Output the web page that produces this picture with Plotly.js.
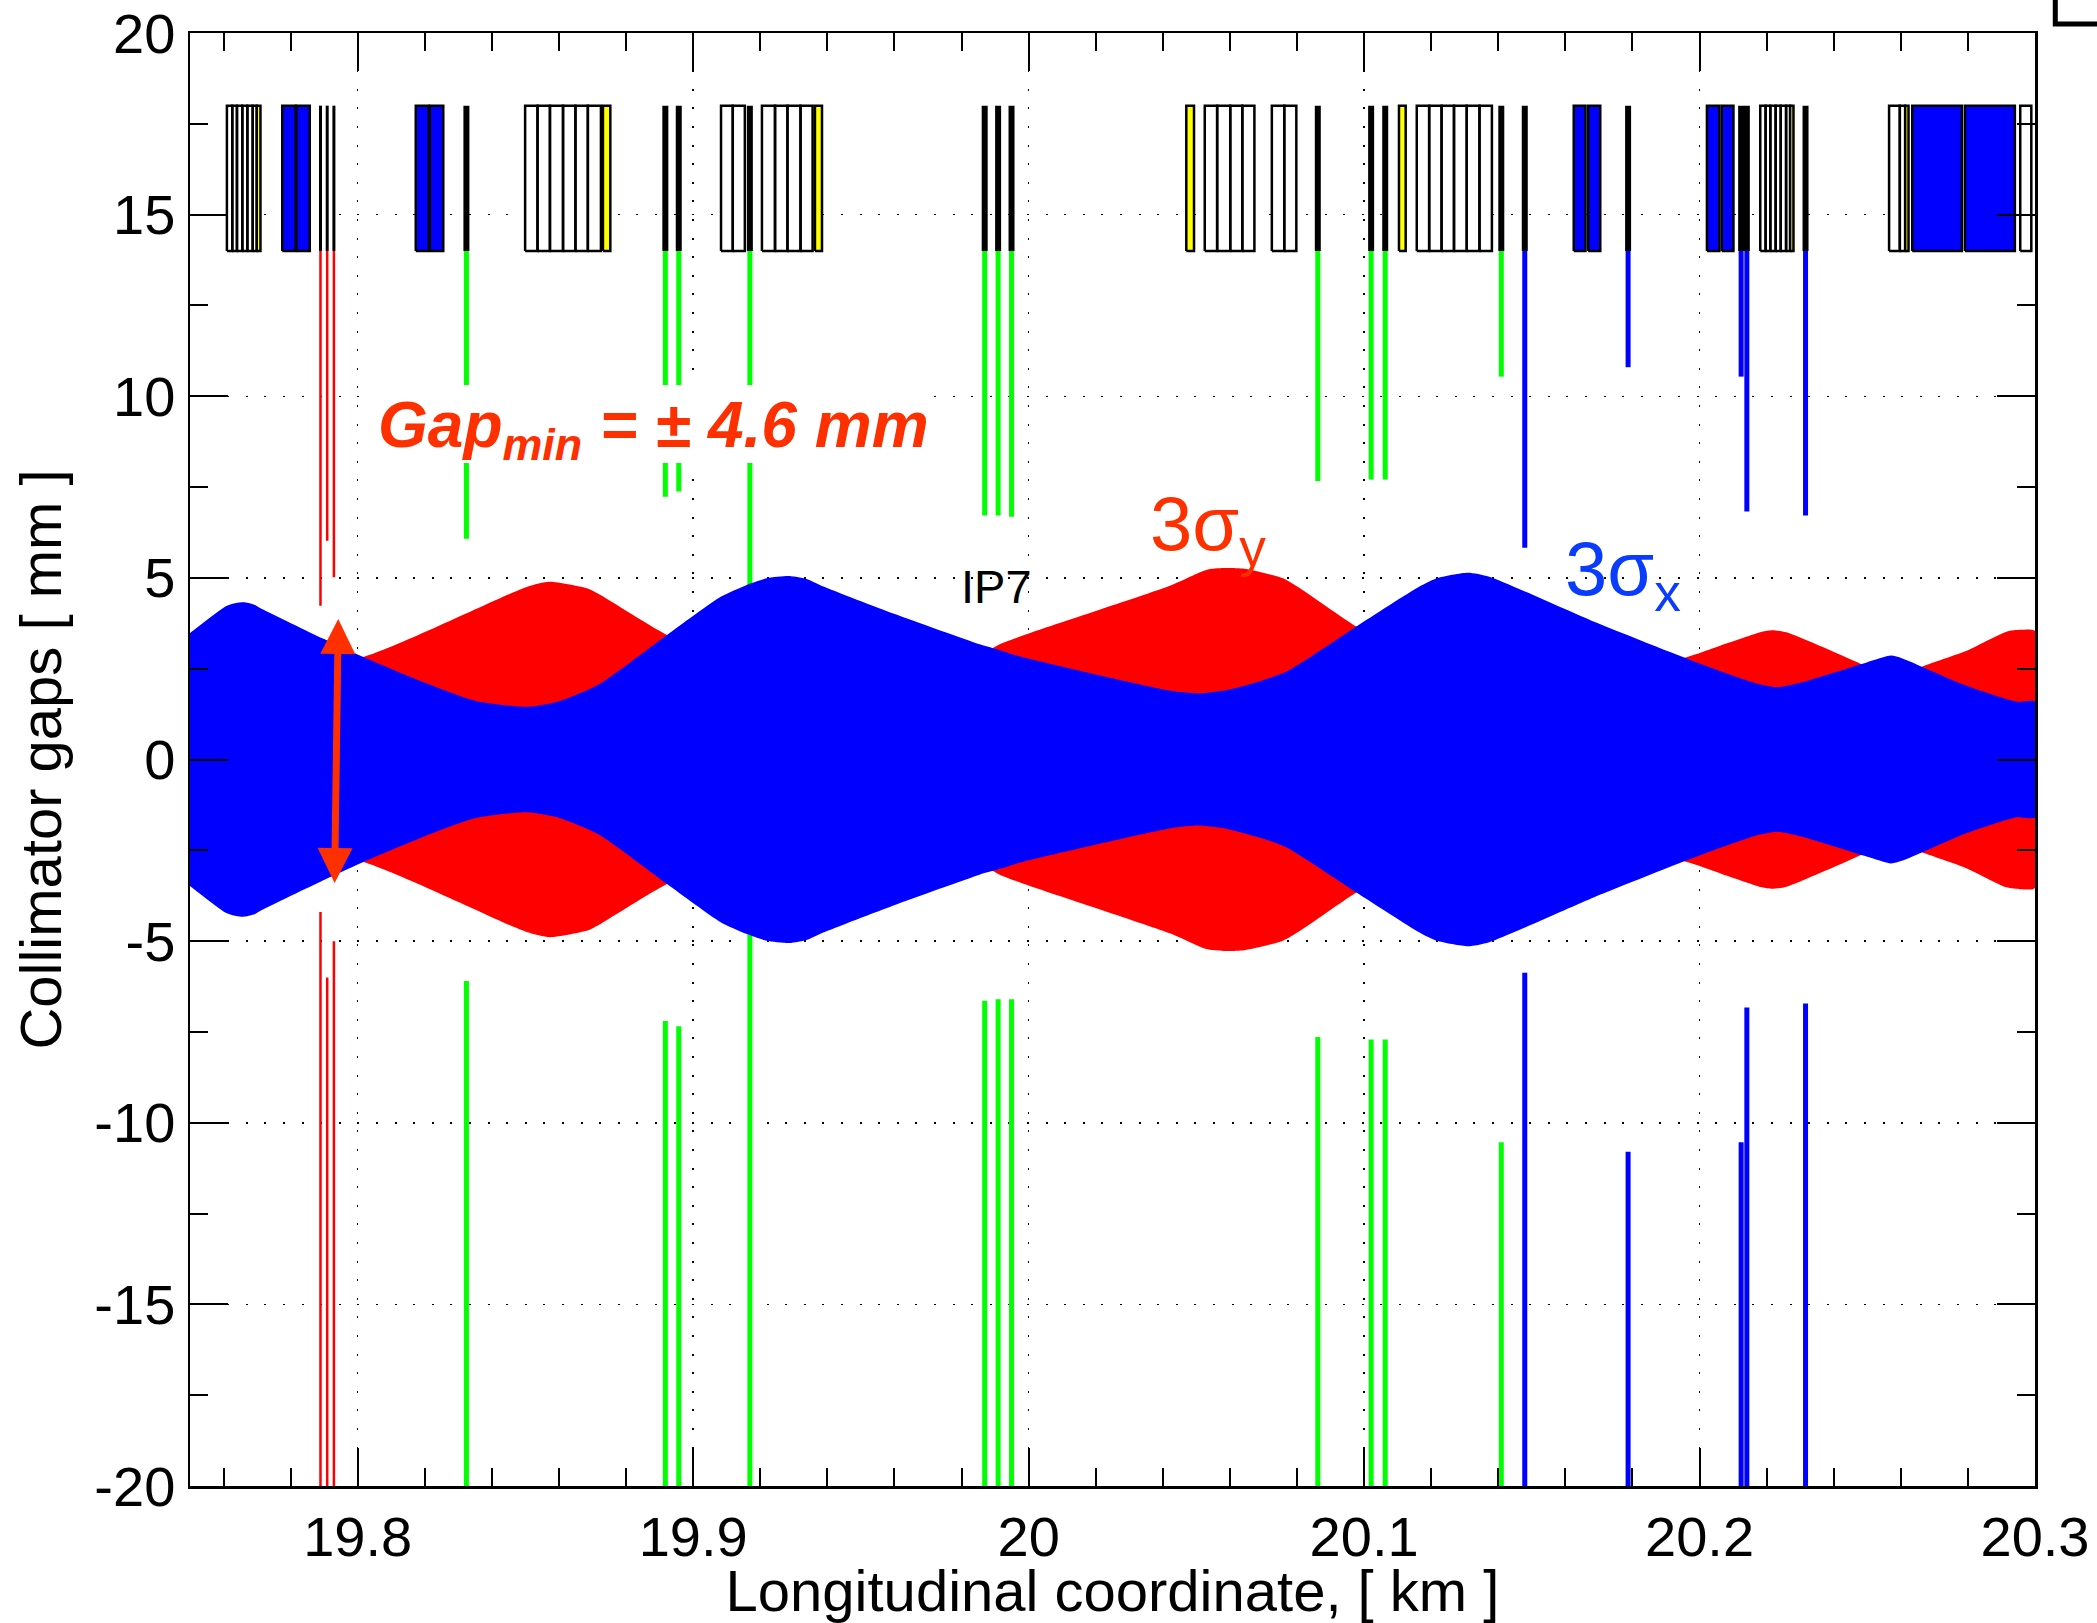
<!DOCTYPE html>
<html><head><meta charset="utf-8">
<script src="https://cdn.plot.ly/plotly-3.0.1.min.js"></script>
<style>html,body{margin:0;padding:0;background:#fff}#c{width:2097px;height:1623px}</style>
</head><body><div id="c"></div>
<script>
// Envelope half-widths (km, mm)
const sigmaXs=[19.75,19.7607,19.7637,19.766,19.769,19.7713,19.7896,19.8017,19.82,19.8352,19.8504,19.8595,19.8717,19.8922,19.9082,19.9158,19.9219,19.9287,19.934,19.9386,19.9599,19.9854,19.9914,19.9977,20.0425,20.0508,20.0591,20.0685,20.0769,20.0977,20.1165,20.1217,20.131,20.1373,20.1686,20.1998,20.2175,20.2234,20.2311,20.2498,20.2571,20.2603,20.279,20.2946,20.3];
const sigmaXv=[3.48,4.22,4.31,4.33,4.27,4.15,3.33,2.82,2.11,1.61,1.45,1.59,2.06,3.43,4.48,4.8,4.99,5.05,4.96,4.77,4.01,3.17,3.01,2.83,1.89,1.82,1.91,2.14,2.42,3.66,4.76,4.99,5.14,5.03,3.79,2.65,2.08,1.99,2.14,2.67,2.86,2.79,2.05,1.59,1.59];
const sigmaYs=[19.75,19.8017,19.8504,19.8572,19.8687,19.8725,19.8922,19.93,19.98,19.9914,20,20.0425,20.0529,20.0581,20.0643,20.0758,20.081,20.0977,20.13,20.1946,20.2082,20.2186,20.2217,20.2259,20.2488,20.2575,20.2665,20.279,20.2915,20.2957,20.3];
const sigmaYv=[2,2.82,4.75,4.89,4.7,4.52,3.43,2,2.6,3.17,3.47,4.8,5.22,5.27,5.25,4.99,4.71,3.66,2,2.78,3.2,3.52,3.56,3.5,2.6,2.2,2.56,2.97,3.52,3.57,3.54];
// Collimators
const redCollS=[19.7889,19.7909,19.7929];
const redCollUp=[4.23,6.02,5.02];
const redCollLo=[4.2,6,5];
const greenCollS=[19.8324,19.8917,19.8957,19.9169,19.9869,19.9909,19.9949,20.0862,20.1021,20.1063,20.1409];
const greenCollUp=[6.08,7.23,7.38,4.6,6.72,6.72,6.68,7.67,7.71,7.71,10.54];
const greenCollLo=[6.1,7.2,7.34,4.6,6.64,6.6,6.6,7.64,7.71,7.71,10.54];
const blueCollS=[20.1479,20.1787,20.2124,20.2141,20.2316];
const blueCollUp=[5.83,10.8,10.54,6.83,6.72];
const blueCollLo=[5.87,10.8,10.54,6.83,6.72];
// Lattice elements [start, end] km
const whiteEl=[[19.761,19.7626],[19.7626,19.764],[19.764,19.7656],[19.7656,19.7671],[19.7671,19.7687],[19.7687,19.7699],
[19.8499,19.8536],[19.8536,19.8573],[19.8573,19.8612],[19.8612,19.8649],[19.8649,19.8686],[19.8686,19.8725],
[19.9083,19.9118],[19.9118,19.9154],[19.9205,19.9244],[19.9244,19.9281],[19.9281,19.932],[19.932,19.9356],
[20.0525,20.0562],[20.0562,20.0601],[20.0601,20.0637],[20.0637,20.0673],[20.0725,20.0762],[20.0762,20.0798],
[20.1157,20.1194],[20.1194,20.1231],[20.1231,20.1268],[20.1268,20.1306],[20.1306,20.1344],[20.1344,20.1381],
[20.2181,20.2197],[20.2197,20.2211],[20.2211,20.2227],[20.2227,20.2242],[20.2242,20.2258],[20.2258,20.227],
[20.2565,20.2597],[20.2597,20.2613],[20.2956,20.2989]];
const yellowEl=[[19.7699,19.771],[19.8731,19.8753],[19.9363,19.9384],[20.047,20.0493],[20.1104,20.1124],[20.227,20.228],[20.2613,20.2623]];
const blueEl=[[19.7775,19.7815],[19.7817,19.7857],[19.8173,19.8212],[19.8215,19.8255],[20.1625,20.166],[20.1668,20.1704],[20.2022,20.2059],[20.2066,20.2101],[20.2634,20.2782],[20.2791,20.294]];
const yTickVals=[-20,-15,-10,-5,0,5,10,15,20];
const yTickText=['-20','-15','-10','-5','0','5','10','15','20'];
const xTickVals=[19.8,19.9,20,20.1,20.2,20.3];
const xTickText=['19.8','19.9','20','20.1','20.2','20.3'];
const elBottom=14, elTop=18, axisBottom=-20;

function env(s,v,color){
  return {x:s.concat(s.slice().reverse()),y:v.concat(v.map(a=>-a).reverse()),mode:'lines',fill:'toself',fillcolor:color,line:{width:0,color:color,shape:'spline',smoothing:0.6},hoverinfo:'skip',showlegend:false};
}
function colls(s,up,lo,color,w){
  const x=[],y=[];
  s.forEach((k,i)=>{x.push(k,k,null,k,k,null);y.push(elBottom,up[i],null,axisBottom,-lo[i],null);});
  return {x,y,mode:'lines',line:{color,width:w},hoverinfo:'skip',showlegend:false};
}
function blacks(s,w){
  const x=[],y=[];
  s.forEach(k=>{x.push(k,k,null);y.push(elBottom,elTop,null);});
  return {x,y,mode:'lines',line:{color:'#000',width:w},hoverinfo:'skip',showlegend:false};
}
function boxes(list,fill){
  const x=[],y=[];
  list.forEach(([a,b])=>{x.push(a,b,b,a,a,null);y.push(elBottom,elBottom,elTop,elTop,elBottom,null);});
  return {x,y,mode:'lines',fill:'toself',fillcolor:fill,line:{color:'#000',width:2.5},hoverinfo:'skip',showlegend:false};
}
const data=[
  colls(redCollS,redCollUp,redCollLo,'#ff0000',2.5),
  colls(greenCollS,greenCollUp,greenCollLo,'#00ff00',5),
  colls(blueCollS,blueCollUp,blueCollLo,'#0000ff',5),
  env(sigmaYs,sigmaYv,'#ff0000'),
  env(sigmaXs,sigmaXv,'#0000ff'),
  boxes(whiteEl,'#ffffff'),
  boxes(yellowEl,'#ffff00'),
  boxes(blueEl,'#0000ff'),
  blacks(redCollS,3),
  blacks(greenCollS.concat(blueCollS),6)
];
const font='"Liberation Sans", Arial, sans-serif';
const axisCommon={showline:true,mirror:'ticks',linecolor:'#000',linewidth:2.5,ticks:'inside',ticklen:38,tickwidth:2,tickcolor:'#000',
  showgrid:true,gridcolor:'#000',gridwidth:1.5,griddash:'2px,16.6px',zeroline:false,tickfont:{family:font,size:56,color:'#000'},tickmode:'array'};
const layout={
  width:2097,height:1623,margin:{l:190,r:62,t:33,b:137},paper_bgcolor:'#fff',plot_bgcolor:'#fff',showlegend:false,
  xaxis:Object.assign({},axisCommon,{range:[19.75,20.3],tickvals:xTickVals,ticktext:xTickText,
    minor:{dtick:0.02,tick0:19.8,ticks:'inside',ticklen:18,tickwidth:2,tickcolor:'#000',showgrid:false},
    title:{text:'Longitudinal coordinate, [ km ]',font:{family:font,size:58,color:'#000'},standoff:6}}),
  yaxis:Object.assign({},axisCommon,{range:[-20,20],tickvals:yTickVals,ticktext:yTickText,ticklabelstandoff:1,
    minor:{dtick:2.5,tick0:0,ticks:'inside',ticklen:18,tickwidth:2,tickcolor:'#000',showgrid:false},
    title:{text:'Collimator gaps [ mm ]',font:{family:font,size:58,color:'#000'},standoff:14}}),
  annotations:[
    {x:19.8882,y:9.1,xref:'x',yref:'y',showarrow:false,
     text:'<b><i>Gap<sub>min</sub> = ± 4.6 mm</i></b>',font:{family:font,size:64,color:'#ff3000'}},
    {x:19.7942,y:3.87,ax:19.7931,ay:-3.44,axref:'x',ayref:'y',xref:'x',yref:'y',text:'',showarrow:true,arrowside:'end+start',arrowhead:2,arrowsize:1,arrowwidth:7,arrowcolor:'#ff3000',standoff:0,startstandoff:0,startarrowhead:2,startarrowsize:1},
    {x:19.9905,y:4.75,xref:'x',yref:'y',showarrow:false,text:'IP7',font:{family:font,size:47,color:'#000'}},
    {x:20.0536,y:6.35,xref:'x',yref:'y',showarrow:false,text:'3σ<sub>y</sub>',font:{family:font,size:76,color:'#ff3000'}},
    {x:20.1772,y:5.1,xref:'x',yref:'y',showarrow:false,text:'3σ<sub>x</sub>',font:{family:font,size:76,color:'#0a3cff'}}
  ],
  shapes:[
    {type:'rect',layer:'above',xref:'x',yref:'y',x0:19.8051,x1:19.9712,y0:8.16,y1:10.31,fillcolor:'#fff',line:{width:0}},
    {type:'path',xref:'paper',yref:'paper',path:'M 1.0110 1.03 L 1.0110 1.0062 L 1.034 1.0062',line:{color:'#000',width:5}}]
};
Plotly.newPlot('c',data,layout,{staticPlot:true,displayModeBar:false});
</script></body></html>
